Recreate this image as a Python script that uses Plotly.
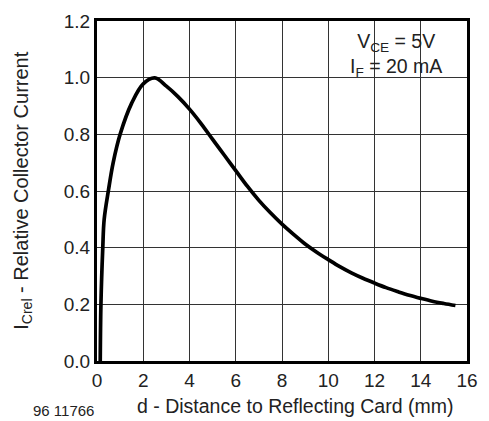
import plotly.graph_objects as go

d_mm = [0.14, 0.17, 0.25, 0.31, 0.5, 0.7, 1.0, 1.5, 2.0, 2.5, 3.0, 3.5, 4.0, 4.5, 5.0, 5.5, 6.0, 6.5, 7.0, 7.5, 8.0, 8.5, 9.0, 9.5, 10.0, 10.5, 11.0, 11.5, 12.0, 12.5, 13.0, 13.5, 14.0, 14.5, 15.0, 15.5]
i_rel = [0.0, 0.2, 0.4, 0.5, 0.605, 0.7, 0.8, 0.91, 0.978, 0.999, 0.97, 0.933, 0.889, 0.838, 0.782, 0.727, 0.672, 0.617, 0.567, 0.523, 0.483, 0.447, 0.413, 0.384, 0.358, 0.333, 0.311, 0.292, 0.275, 0.259, 0.245, 0.232, 0.221, 0.211, 0.203, 0.196]
x_ticks = [0, 2, 4, 6, 8, 10, 12, 14, 16]
y_ticks = [0.0, 0.2, 0.4, 0.6, 0.8, 1.0, 1.2]

FONT = "Liberation Sans, Arial, sans-serif"

W, H = 489, 421
L, R, T, B = 97, 11, 16, 60
PW, PH = W - L - R, H - T - B


def px_x(px):
    return (px - L) / PW


def px_y(py):
    return (H - B - py) / PH


fig = go.Figure()
fig.add_trace(go.Scatter(x=d_mm, y=i_rel, mode="lines",
                         line=dict(color="black", width=3.7, shape="spline", smoothing=1.0),
                         showlegend=False, hoverinfo="skip"))

fig.update_layout(
    width=W, height=H,
    margin=dict(l=L, r=R, t=T, b=B),
    paper_bgcolor="white", plot_bgcolor="white",
    font=dict(family=FONT, size=19, color="#222"),
    xaxis=dict(range=[0, 16], tickvals=x_ticks, ticktext=[str(v) for v in x_ticks],
               showgrid=True, gridcolor="#333", gridwidth=1, zeroline=False,
               showline=True, linecolor="black", linewidth=3, mirror=True,
               ticks="", ticklen=0, tickfont=dict(size=19)),
    yaxis=dict(range=[0, 1.2], tickvals=y_ticks, ticktext=[f"{v:.1f}" for v in y_ticks],
               showgrid=True, gridcolor="#333", gridwidth=1, zeroline=False,
               showline=True, linecolor="black", linewidth=3, mirror=True,
               ticks="", ticklen=0, tickfont=dict(size=19)),
    annotations=[
        dict(text="I<sub>Crel</sub> - Relative Collector Current", xref="paper", yref="paper",
             x=px_x(20), y=px_y(188), textangle=-90, showarrow=False, font=dict(size=20),
             xanchor="center", yanchor="middle"),
        dict(text="d - Distance to Reflecting Card (mm)", xref="paper", yref="paper",
             x=px_x(301), y=px_y(407), showarrow=False, font=dict(size=19.5),
             xanchor="center", yanchor="middle"),
        dict(text="96 11766", xref="paper", yref="paper",
             x=px_x(62), y=px_y(411), showarrow=False, font=dict(size=15),
             xanchor="center", yanchor="middle"),
        dict(text="V<sub>CE</sub> = 5V<br>I<sub>F</sub> = 20 mA", xref="paper", yref="paper",
             x=px_x(405), y=px_y(50), showarrow=False, font=dict(size=19.5),
             align="center", xanchor="center", yanchor="middle"),
    ],
)

fig.write_html(
    "out.html",
    config={"displayModeBar": False},
    post_script="document.documentElement.style.margin='0';document.body.style.margin='0';"
                "document.body.style.overflow='hidden';",
)
